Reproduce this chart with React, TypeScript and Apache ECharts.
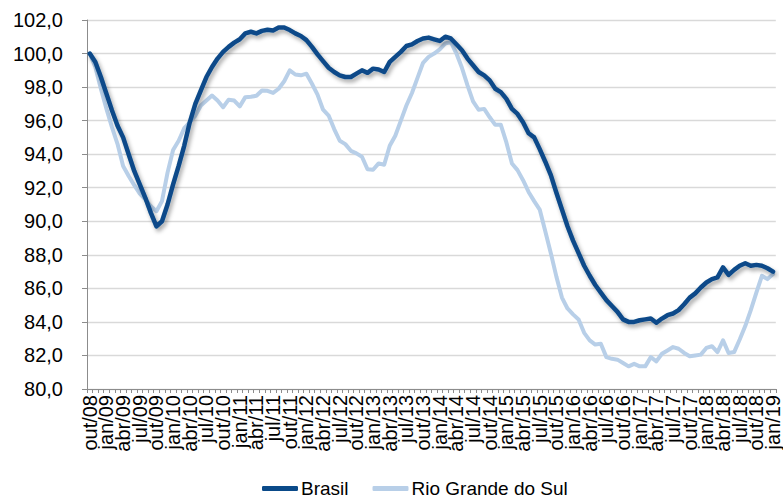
import React, { useEffect, useRef } from "react";
import * as echarts from "echarts";

const monthNames = ["jan", "fev", "mar", "abr", "mai", "jun", "jul", "ago", "set", "out", "nov", "dez"];
const startYear = 2008;
const startMonth = 9; // out
const monthCount = 124; // out/08 .. jan/19
const labelEvery = 3;

const categories: string[] = [];
for (let k = 0; k < monthCount; k++) {
  const m = (startMonth + k) % 12;
  const y = startYear + Math.floor((startMonth + k) / 12);
  categories.push(`${monthNames[m]}/${String(y % 100).padStart(2, "0")}`);
}

const brasil = [
  100.0, 99.5, 98.6, 97.6, 96.6, 95.7, 95.0, 94.0, 93.0, 92.2,
  91.4, 90.5, 89.7, 90.0, 91.0, 92.2, 93.3, 94.5, 95.9, 97.0,
  97.8, 98.6, 99.2, 99.7, 100.1, 100.4, 100.65, 100.85, 101.2, 101.3,
  101.2, 101.35, 101.42, 101.38, 101.55, 101.55, 101.4, 101.2, 101.05, 100.8,
  100.4, 99.95, 99.55, 99.15, 98.9, 98.7, 98.6, 98.6, 98.8, 99.0,
  98.85, 99.1, 99.05, 98.9, 99.5, 99.8, 100.1, 100.45, 100.55, 100.75,
  100.9, 100.95, 100.85, 100.75, 101.0, 100.9, 100.55, 100.2, 99.7, 99.3,
  98.9, 98.7, 98.4, 97.9, 97.7, 97.3, 96.7, 96.4, 95.9, 95.25,
  95.0, 94.3, 93.55, 92.75, 91.7, 90.7, 89.7, 88.85, 88.1, 87.35,
  86.75, 86.2, 85.75, 85.3, 84.95, 84.6, 84.15, 84.0, 84.0, 84.1,
  84.15, 84.2, 83.95, 84.2, 84.4, 84.5, 84.7, 85.05, 85.45, 85.7,
  86.05, 86.35, 86.55, 86.65, 87.25, 86.8, 87.1, 87.35, 87.5, 87.35,
  87.4, 87.35, 87.2, 87.0,
];

const rioGrandeDoSul = [
  100.0, 99.2, 97.9, 96.7, 95.6, 94.6, 93.3, 92.7, 92.15, 91.65,
  91.3, 90.9, 90.6, 91.2, 92.9, 94.25, 94.8, 95.55, 95.9, 96.3,
  96.9, 97.2, 97.5, 97.2, 96.8, 97.25, 97.2, 96.85, 97.4, 97.43,
  97.48, 97.8, 97.78, 97.65, 97.9, 98.35, 99.0, 98.75, 98.7, 98.8,
  98.2, 97.55, 96.65, 96.3, 95.5, 94.8, 94.6, 94.2, 94.05, 93.85,
  93.1, 93.07, 93.45, 93.37, 94.5, 95.1, 96.0, 96.9, 97.65, 98.55,
  99.45, 99.8, 100.0, 100.25, 100.6, 100.7, 100.0, 99.15, 98.1, 97.15,
  96.65, 96.7, 96.2, 95.75, 95.75, 94.7, 93.45, 93.05, 92.45, 91.75,
  91.2, 90.7, 89.4, 88.1, 86.7, 85.45, 84.8, 84.45, 84.15, 83.35,
  82.9, 82.65, 82.7, 81.9, 81.8, 81.75, 81.55, 81.35, 81.5, 81.35,
  81.35, 81.9, 81.65, 82.1, 82.3, 82.5, 82.4, 82.15, 81.95, 82.0,
  82.05, 82.45, 82.55, 82.2, 82.9, 82.15, 82.2, 82.95, 83.75, 84.7,
  85.75, 86.75, 86.55, 86.85,
];

const seriesNames = ["Brasil", "Rio Grande do Sul"];
const yTicks = { min: 80, max: 102, step: 2 };

const FONT = "'Liberation Sans', Arial, sans-serif";

export default function App() {
  const ref = useRef<HTMLDivElement>(null);

  useEffect(() => {
    if (!ref.current) return;
    const chart = echarts.init(ref.current, undefined, { renderer: "svg" });
    chart.setOption({
      animation: false,
      backgroundColor: "#ffffff",
      textStyle: { fontFamily: FONT },
      grid: { left: 87, right: 2, top: 20, bottom: 109, containLabel: false },
      legend: {
        data: [
          { name: seriesNames[0], icon: "roundRect" },
          { name: seriesNames[1], icon: "roundRect" },
        ],
        left: 257,
        top: 474,
        itemWidth: 36,
        itemHeight: 5,
        itemGap: 24,
        textStyle: { fontFamily: FONT, fontSize: 19, color: "#000", padding: [0, 0, 0, -2] },
      },
      xAxis: {
        type: "category",
        data: categories,
        boundaryGap: true,
        axisLine: { lineStyle: { color: "#8c8c8c", width: 1 } },
        axisTick: { show: true, interval: 0, length: 4, lineStyle: { color: "#8c8c8c" } },
        axisLabel: {
          interval: 0,
          rotate: 90,
          margin: 6,
          fontFamily: FONT,
          fontSize: 20,
          color: "#000",
          showMinLabel: true,
          showMaxLabel: true,
          hideOverlap: false,
          formatter: (v: string, idx: number) => (idx % labelEvery === 0 ? v : ""),
        },
        splitLine: { show: false },
      },
      yAxis: {
        type: "value",
        min: yTicks.min,
        max: yTicks.max,
        interval: yTicks.step,
        axisLine: { show: true, lineStyle: { color: "#8c8c8c", width: 1 } },
        axisTick: { show: true, length: 5, lineStyle: { color: "#8c8c8c" } },
        axisLabel: {
          margin: 24,
          fontFamily: FONT,
          fontSize: 20,
          color: "#000",
          formatter: (v: number) => v.toFixed(1).replace(".", ","),
        },
        splitLine: { lineStyle: { color: "#d9d9d9", width: 1.3 } },
      },
      series: [
        {
          name: seriesNames[1],
          type: "line",
          data: rioGrandeDoSul,
          showSymbol: false,
          symbol: "none",
          itemStyle: { color: "#b8cfe8" },
          lineStyle: { color: "#b8cfe8", width: 4, cap: "round", join: "round" },
          z: 2,
        },
        {
          name: seriesNames[0],
          type: "line",
          data: brasil,
          showSymbol: false,
          symbol: "none",
          itemStyle: { color: "#0a4a89" },
          lineStyle: {
            color: "#0a4a89",
            width: 4.5,
            cap: "round",
            join: "round",
            shadowColor: "rgba(0,0,0,0.35)",
            shadowBlur: 4,
            shadowOffsetX: 2,
            shadowOffsetY: 3,
          },
          z: 3,
        },
      ],
    });
    return () => chart.dispose();
  }, []);

  return (
    <div
      ref={ref}
      style={{ position: "absolute", left: 0, top: 0, width: 783, height: 498, background: "#fff" }}
    />
  );
}
